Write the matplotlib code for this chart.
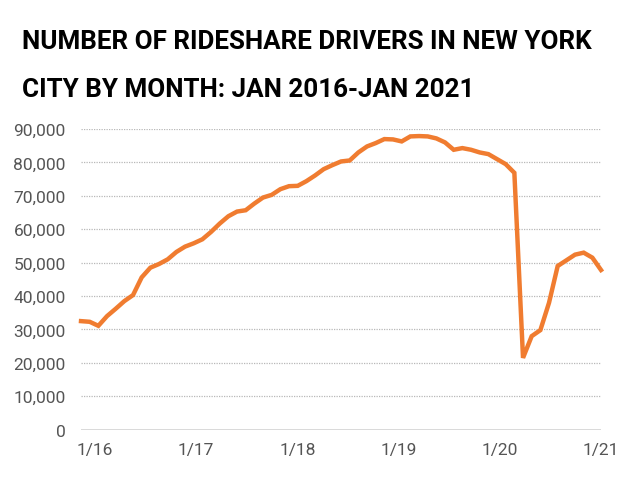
import numpy as np
import matplotlib
matplotlib.use("Agg")
import matplotlib.pyplot as plt

# Aylık sürücü sayıları: Ocak 2016 - Ocak 2021 (grafikten okunmuş tahmini değerler)
drivers = [
    32500, 32300, 31100, 34000, 36200, 38500, 40300, 45600, 48500, 49600,
    51000, 53200, 54800, 55800, 57000, 59200, 61700, 63900, 65300, 65700,
    67700, 69500, 70300, 72000, 72900, 73000, 74400, 76100, 78000, 79200,
    80300, 80600, 83000, 84800, 85800, 87000, 86900, 86300, 87800, 87900,
    87800, 87200, 86000, 83800, 84300, 83800, 83000, 82500, 81000, 79500,
    76900, 21500, 28000, 29800, 38000, 49000, 50700, 52400, 53000, 51500,
    47800,
]
x_labels = ["1/16", "1/17", "1/18", "1/19", "1/20", "1/21"]
y_ticks = [0, 10000, 20000, 30000, 40000, 50000, 60000, 70000, 80000, 90000]
title_lines = ["NUMBER OF RIDESHARE DRIVERS IN NEW YORK",
               "CITY BY MONTH: JAN 2016-JAN 2021"]

plt.rcParams["font.family"] = ["Roboto", "DejaVu Sans"]

months = np.arange(len(drivers))

fig = plt.figure(figsize=(6.4, 4.81), dpi=100)
ax = fig.add_axes([0.1266, 0.1046, 0.8125, 0.625])

ax.plot(months, drivers, color="#F07C30", linewidth=3.2, solid_joinstyle="miter",
        clip_on=False, zorder=3)

ax.set_xlim(0, 60)
ax.set_ylim(0, 90000)
ax.set_yticks(y_ticks)
ax.set_yticklabels([f"{v:,}" for v in y_ticks])
ax.set_xticks(np.linspace(1.6, 60, len(x_labels)))
ax.set_xticklabels(x_labels)

# ızgara çizgileri
for v in y_ticks[1:]:
    ax.axhline(v, color="#b8b8b8", linewidth=0.9, linestyle=(0, (1, 1)), zorder=1)
ax.axhline(0, color="#cfcfcf", linewidth=1.8, zorder=1)

for s in ax.spines.values():
    s.set_visible(False)
ax.tick_params(length=0, labelsize=12.5, labelcolor="#555555")
ax.tick_params(axis="y", pad=11)
ax.tick_params(axis="x", pad=9)

# başlık: iki satır, sabit taban çizgileri
fig.text(0.035, 1 - 49 / 481, title_lines[0], fontsize=18.7, fontweight="bold",
         color="black", va="baseline", ha="left")
fig.text(0.035, 1 - 97 / 481, title_lines[1], fontsize=18.7, fontweight="bold",
         color="black", va="baseline", ha="left")

fig.savefig("out.png", dpi=100)
